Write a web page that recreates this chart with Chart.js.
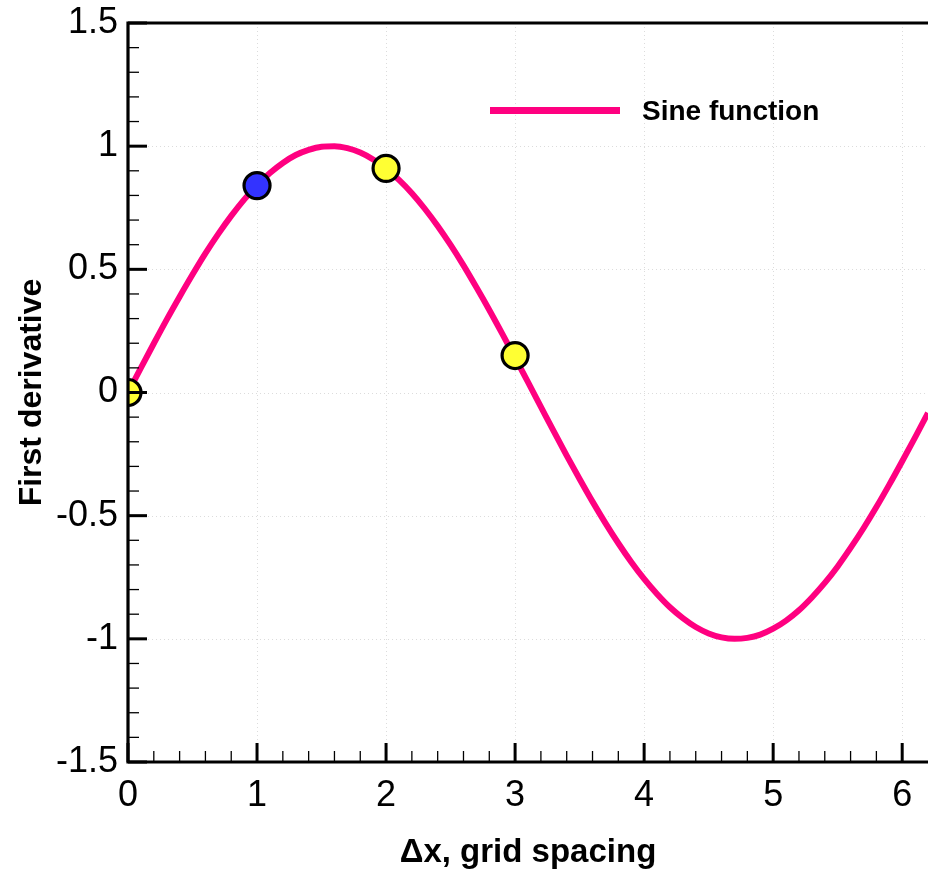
<!DOCTYPE html>
<html>
<head>
<meta charset="utf-8">
<script src="https://cdn.jsdelivr.net/npm/chart.js@4.4.0/dist/chart.umd.min.js"></script>
<style>
  html, body { margin: 0; padding: 0; background: #fff; overflow: hidden; }
  #wrap { width: 928px; height: 869px; position: relative; }
</style>
</head>
<body>
<div id="wrap"><canvas id="c"></canvas></div>
<script>
// sine curve, every 0.1 in x
const curveX = [0.0, 0.1, 0.2, 0.3, 0.4, 0.5, 0.6, 0.7, 0.8, 0.9,
                1.0, 1.1, 1.2, 1.3, 1.4, 1.5, 1.6, 1.7, 1.8, 1.9,
                2.0, 2.1, 2.2, 2.3, 2.4, 2.5, 2.6, 2.7, 2.8, 2.9,
                3.0, 3.1, 3.2, 3.3, 3.4, 3.5, 3.6, 3.7, 3.8, 3.9,
                4.0, 4.1, 4.2, 4.3, 4.4, 4.5, 4.6, 4.7, 4.8, 4.9,
                5.0, 5.1, 5.2, 5.3, 5.4, 5.5, 5.6, 5.7, 5.8, 5.9,
                6.0, 6.1, 6.2, 6.3];
const curveY = [0.000, 0.100, 0.199, 0.296, 0.389, 0.479, 0.565, 0.644, 0.717, 0.783,
                0.841, 0.891, 0.932, 0.964, 0.985, 0.998, 1.000, 0.992, 0.974, 0.946,
                0.909, 0.863, 0.809, 0.746, 0.676, 0.599, 0.516, 0.427, 0.335, 0.239,
                0.141, 0.042, -0.058, -0.158, -0.256, -0.351, -0.443, -0.530, -0.612, -0.688,
                -0.757, -0.818, -0.872, -0.916, -0.952, -0.978, -0.994, -1.000, -0.996, -0.983,
                -0.959, -0.926, -0.884, -0.832, -0.773, -0.706, -0.631, -0.551, -0.465, -0.374,
                -0.279, -0.182, -0.083, 0.017];

// highlighted sample points
const markX      = [0, 1, 2, 3];
const markY      = [0.0, 0.84, 0.91, 0.15];
const markColors = ['#ffff33', '#3333ff', '#ffff33', '#ffff33'];

// axes
const xTicks = [0, 1, 2, 3, 4, 5, 6];
const yTicks = [-1.5, -1, -0.5, 0, 0.5, 1, 1.5];
const xMin = 0, xMax = 6.2, yMin = -1.5, yMax = 1.5;

const seriesLabel = 'Sine function';
const lineColor = '#ff0080';
const FONT = '"Liberation Sans", Arial, sans-serif';

// frame, inward ticks, dotted grid and the legend, Tecplot style
const framePlugin = {
  id: 'frame',
  beforeDatasetsDraw(chart) {
    const { ctx, chartArea: a, scales: { x, y } } = chart;
    ctx.save();
    ctx.strokeStyle = '#dcdcdc';
    ctx.lineWidth = 1;
    ctx.setLineDash([1, 3]);
    xTicks.forEach(v => {
      if (v <= xMin) return;
      const px = Math.round(x.getPixelForValue(v)) + 0.5;
      ctx.beginPath(); ctx.moveTo(px, a.top); ctx.lineTo(px, a.bottom); ctx.stroke();
    });
    yTicks.forEach(v => {
      if (v <= yMin || v >= yMax) return;
      const py = Math.round(y.getPixelForValue(v)) + 0.5;
      ctx.beginPath(); ctx.moveTo(a.left, py); ctx.lineTo(a.right, py); ctx.stroke();
    });
    ctx.restore();
  },
  afterDatasetsDraw(chart) {
    const { ctx, chartArea: a, scales: { x, y } } = chart;
    ctx.save();
    ctx.strokeStyle = '#000';

    // minor ticks
    ctx.lineWidth = 1.3;
    for (let i = 1; i < 31; i++) {
      const v = xMin + i * 0.2;
      if (v > xMax + 1e-9 || Math.abs(v - Math.round(v)) < 1e-6) continue;
      const px = x.getPixelForValue(v);
      ctx.beginPath(); ctx.moveTo(px, a.bottom); ctx.lineTo(px, a.bottom - 11); ctx.stroke();
    }
    for (let i = 1; i < 30; i++) {
      const v = yMin + i * 0.1;
      if (Math.abs(v * 2 - Math.round(v * 2)) < 1e-6) continue;
      const py = y.getPixelForValue(v);
      ctx.beginPath(); ctx.moveTo(a.left, py); ctx.lineTo(a.left + 11, py); ctx.stroke();
    }

    // major ticks
    ctx.lineWidth = 3;
    xTicks.forEach(v => {
      const px = x.getPixelForValue(v);
      ctx.beginPath(); ctx.moveTo(px, a.bottom); ctx.lineTo(px, a.bottom - 19); ctx.stroke();
    });
    yTicks.forEach(v => {
      const py = y.getPixelForValue(v);
      ctx.beginPath(); ctx.moveTo(a.left, py); ctx.lineTo(a.left + 19, py); ctx.stroke();
    });

    // frame: left, bottom, top (right side runs off the picture)
    ctx.lineWidth = 3.2;
    ctx.beginPath();
    ctx.moveTo(a.right + 2, a.top);
    ctx.lineTo(a.left, a.top);
    ctx.lineTo(a.left, a.bottom);
    ctx.lineTo(a.right + 2, a.bottom);
    ctx.stroke();

    // legend
    const lx = a.left + 362, ly = a.top + 87.5;
    ctx.strokeStyle = lineColor;
    ctx.lineWidth = 7;
    ctx.beginPath(); ctx.moveTo(lx, ly); ctx.lineTo(lx + 130, ly); ctx.stroke();
    ctx.fillStyle = '#000';
    ctx.font = 'bold 28px ' + FONT;
    ctx.textBaseline = 'alphabetic';
    ctx.textAlign = 'left';
    ctx.fillText(seriesLabel, lx + 152, a.top + 97);
    ctx.restore();
  }
};

const ctx = document.getElementById('c').getContext('2d');
new Chart(ctx, {
  type: 'scatter',
  data: {
    datasets: [
      {
        label: 'points',
        data: markX.map((v, i) => ({ x: v, y: markY[i] })),
        backgroundColor: markColors,
        borderColor: '#000',
        borderWidth: 3.2,
        pointRadius: 13,
        pointHoverRadius: 13,
        order: 0
      },
      {
        label: seriesLabel,
        type: 'line',
        data: curveX.map((v, i) => ({ x: v, y: curveY[i] })),
        borderColor: lineColor,
        borderWidth: 6,
        pointRadius: 0,
        tension: 0.4,
        cubicInterpolationMode: 'monotone',
        fill: false,
        order: 1
      }
    ]
  },
  options: {
    responsive: true,
    maintainAspectRatio: false,
    animation: false,
    events: [],
    layout: { autoPadding: false, padding: { top: 23, right: 0, left: 0, bottom: 0 } },
    plugins: { legend: { display: false }, tooltip: { enabled: false } },
    scales: {
      x: {
        type: 'linear',
        min: xMin,
        max: xMax,
        afterBuildTicks: s => { s.ticks = xTicks.map(v => ({ value: v })); },
        afterFit: s => { s.height = 107; s.paddingLeft = 0; s.paddingRight = 0; },
        grid: { display: false, drawTicks: false },
        border: { display: false },
        ticks: {
          color: '#000',
          font: { family: FONT, size: 36 },
          padding: 12,
          maxRotation: 0,
          callback: v => String(v)
        },
        title: {
          display: true,
          text: '\u0394x, grid spacing',
          color: '#000',
          font: { family: FONT, size: 33, weight: 'bold', lineHeight: 1 },
          padding: { top: 0, bottom: 0 }
        }
      },
      y: {
        type: 'linear',
        min: yMin,
        max: yMax,
        afterBuildTicks: s => { s.ticks = yTicks.map(v => ({ value: v })); },
        afterFit: s => { s.width = 128; s.paddingTop = 0; s.paddingBottom = 0; },
        grid: { display: false, drawTicks: false },
        border: { display: false },
        ticks: {
          color: '#000',
          font: { family: FONT, size: 36 },
          padding: 10,
          callback: v => String(v)
        },
        title: {
          display: true,
          text: 'First derivative',
          color: '#000',
          font: { family: FONT, size: 32, weight: 'bold', lineHeight: 1 },
          padding: { top: 16, bottom: 0 }
        }
      }
    }
  },
  plugins: [framePlugin]
});
</script>
</body>
</html>
